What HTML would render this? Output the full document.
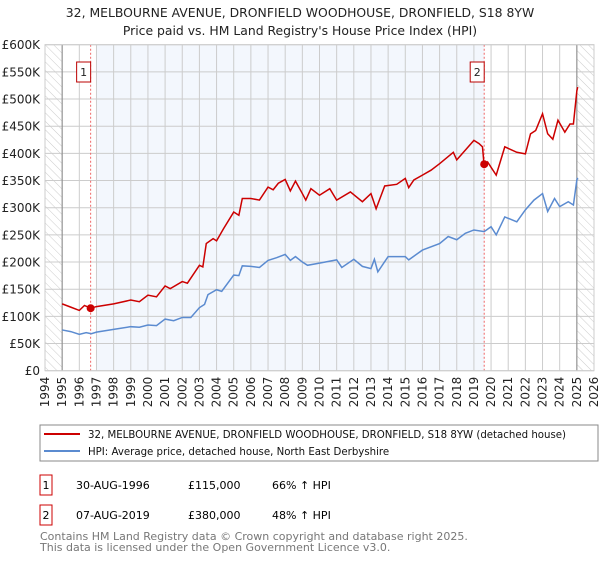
<!DOCTYPE html>
<html><head><meta charset="utf-8"><style>
body{margin:0;background:#fff;font-family:"DejaVu Sans","Liberation Sans",sans-serif;}
svg text{font-family:"DejaVu Sans","Liberation Sans",sans-serif;}
</style></head><body>
<svg id="chart" width="600" height="560" xmlns="http://www.w3.org/2000/svg">
<defs>
<pattern id="hatch" width="6" height="6" patternUnits="userSpaceOnUse" patternTransform="rotate(-45)">
<line x1="0" y1="0" x2="0" y2="6" stroke="#ccc" stroke-width="1"/></pattern>
</defs>
<text x="300" y="17" text-anchor="middle" font-size="12.4" fill="#222">32, MELBOURNE AVENUE, DRONFIELD WOODHOUSE, DRONFIELD, S18 8YW</text>
<text x="300" y="35" text-anchor="middle" font-size="12.4" fill="#222">Price paid vs. HM Land Registry's House Price Index (HPI)</text>
<g id="plot"></g>
<rect x="40" y="425" width="558" height="36" fill="#fff" stroke="#888"/>
<line x1="44" y1="434" x2="80" y2="434" stroke="#cc0000" stroke-width="2"/>
<text x="88" y="438" font-size="10.2" fill="#111">32, MELBOURNE AVENUE, DRONFIELD WOODHOUSE, DRONFIELD, S18 8YW (detached house)</text>
<line x1="44" y1="451" x2="80" y2="451" stroke="#5b8bd0" stroke-width="2"/>
<text x="88" y="455" font-size="10.2" fill="#111">HPI: Average price, detached house, North East Derbyshire</text>
<rect x="40" y="475" width="12" height="20" fill="#fff" stroke="#cc0000"/>
<text x="46" y="489" font-size="11" text-anchor="middle">1</text>
<text x="76" y="489" font-size="11">30-AUG-1996</text>
<text x="188" y="489" font-size="11">£115,000</text>
<text x="272" y="489" font-size="11">66% ↑ HPI</text>
<rect x="40" y="505" width="12" height="20" fill="#fff" stroke="#cc0000"/>
<text x="46" y="519" font-size="11" text-anchor="middle">2</text>
<text x="76" y="519" font-size="11">07-AUG-2019</text>
<text x="188" y="519" font-size="11">£380,000</text>
<text x="272" y="519" font-size="11">48% ↑ HPI</text>
<text x="40" y="540" font-size="11" fill="#777">Contains HM Land Registry data © Crown copyright and database right 2025.</text>
<text x="40" y="551" font-size="11" fill="#777">This data is licensed under the Open Government Licence v3.0.</text>
</svg>
<script>
const yearTicks=[1994,1995,1996,1997,1998,1999,2000,2001,2002,2003,2004,2005,2006,2007,2008,2009,2010,2011,2012,2013,2014,2015,2016,2017,2018,2019,2020,2021,2022,2023,2024,2025,2026];
const priceTicks=[0,50,100,150,200,250,300,350,400,450,500,550,600];
const priceTickLabels=["£0","£50K","£100K","£150K","£200K","£250K","£300K","£350K","£400K","£450K","£500K","£550K","£600K"];
const hpiYears=[1995,1995.5,1996,1996.4,1996.7,1997,1998,1999,1999.5,2000,2000.5,2001,2001.5,2002,2002.5,2003,2003.3,2003.5,2004,2004.3,2005,2005.3,2005.5,2006,2006.5,2007,2007.5,2008,2008.3,2008.6,2009,2009.3,2010,2011,2011.3,2012,2012.5,2013,2013.2,2013.4,2014,2015,2015.2,2016,2017,2017.5,2018,2018.5,2019,2019.6,2020,2020.3,2020.8,2021.5,2022,2022.5,2023,2023.3,2023.7,2024,2024.5,2024.8,2025,2025.05];
const hpiValues=[75,72,67,70,68,71,76,81,80,84,83,95,92,98,98,116,122,140,149,146,176,175,193,192,190,203,208,214,203,210,200,194,198,204,190,205,192,188,205,182,210,210,204,222,234,247,241,253,259,256,265,250,283,274,296,314,326,293,317,302,311,305,351,355];
const propYears=[1995,1995.5,1996,1996.3,1996.66,1997,1998,1999,1999.5,2000,2000.5,2001,2001.3,2002,2002.3,2003,2003.2,2003.4,2003.8,2004,2004.4,2005,2005.3,2005.5,2006,2006.5,2007,2007.3,2007.6,2008,2008.3,2008.6,2009,2009.2,2009.5,2010,2010.6,2011,2011.8,2012.5,2013,2013.3,2013.8,2014.5,2015,2015.2,2015.5,2016,2016.5,2017,2017.8,2018,2018.5,2019,2019.3,2019.5,2019.6,2019.8,2020.3,2020.8,2021.5,2022,2022.3,2022.6,2023,2023.3,2023.6,2023.9,2024.3,2024.6,2024.8,2025,2025.05];
const propValues=[123,117,111,120,115,118,123,130,127,139,136,156,151,164,161,194,191,234,243,239,261,292,286,317,317,314,338,333,345,352,331,349,326,314,335,323,335,314,329,311,326,298,340,343,354,337,351,360,369,381,402,388,406,424,418,412,376,384,360,412,402,399,436,442,473,436,426,461,439,454,454,515,522];
const saleYears=[1996.66,2019.6];
const saleValues=[115,380];
const saleLabels=["1","2"];
const X0=45,X1=594,Y0=370.7,Y1=44.7;
const xs=y=>X0+(y-1994)/(2026-1994)*(X1-X0);
const ys=v=>Y0-v/600*(Y0-Y1);
const NS="http://www.w3.org/2000/svg";
const g=document.getElementById('plot');
function mk(t,a){const e=document.createElementNS(NS,t);for(const k in a)e.setAttribute(k,a[k]);g.appendChild(e);return e;}
let e;
e=mk('rect',{x:X0,y:Y1,width:X1-X0,height:Y0-Y1,fill:'#fff'});


e=mk('rect',{x:xs(1997),y:Y1,width:xs(saleYears[1])-xs(1997),height:Y0-Y1,fill:'#eef3fc',opacity:0.7});


e=mk('rect',{x:X0,y:Y1,width:xs(1995)-X0,height:Y0-Y1,fill:'url(#hatch)'});


e=mk('rect',{x:xs(2025),y:Y1,width:X1-xs(2025),height:Y0-Y1,fill:'url(#hatch)'});


yearTicks.forEach(yr=>{
 e=mk('line',{x1:xs(yr),x2:xs(yr),y1:Y1,y2:Y0,stroke:'#ccc','stroke-width':1});
 
 
 e=mk('text',{x:0,y:0,'font-size':12,fill:'#222','text-anchor':'end',transform:`translate(${xs(yr)+4},${Y0+6}) rotate(-90)`});
 e.textContent=yr;
 
 
});
priceTicks.forEach((v,i)=>{
 e=mk('line',{x1:X0,x2:X1,y1:ys(v),y2:ys(v),stroke:'#ccc','stroke-width':1});
 
 
 e=mk('text',{x:40,y:ys(v)+4.5,'font-size':12,fill:'#222','text-anchor':'end'});
 e.textContent=priceTickLabels[i];
 
 
});
e=mk('line',{x1:xs(1995),x2:xs(1995),y1:Y1,y2:Y0,stroke:'#888'});


e=mk('line',{x1:xs(2025),x2:xs(2025),y1:Y1,y2:Y0,stroke:'#888'});


saleYears.forEach((yr,i)=>{
 e=mk('line',{x1:xs(yr),x2:xs(yr),y1:Y1,y2:Y0,stroke:'#e66','stroke-dasharray':'2,2'});
 
 
 e=mk('rect',{x:xs(yr)-14,y:62,width:14,height:20,fill:'#fff',stroke:'#b00'});
 
 
 e=mk('text',{x:xs(yr)-7,y:76,'font-size':11,'text-anchor':'middle',fill:'#222'});
 e.textContent=saleLabels[i];
 
 
});
e=mk('polyline',{points:hpiYears.map((y,i)=>xs(y)+','+ys(hpiValues[i])).join(' '),fill:'none',stroke:'#5b8bd0','stroke-width':1.5});


e=mk('polyline',{points:propYears.map((y,i)=>xs(y)+','+ys(propValues[i])).join(' '),fill:'none',stroke:'#cc0000','stroke-width':1.5});


saleYears.forEach((yr,i)=>{
 e=mk('circle',{cx:xs(yr),cy:ys(saleValues[i]),r:4,fill:'#cc0000'});
 
 
});
e=mk('rect',{x:X0,y:Y1,width:X1-X0,height:Y0-Y1,fill:'none',stroke:'#ccc'});


</script>
</body></html>
